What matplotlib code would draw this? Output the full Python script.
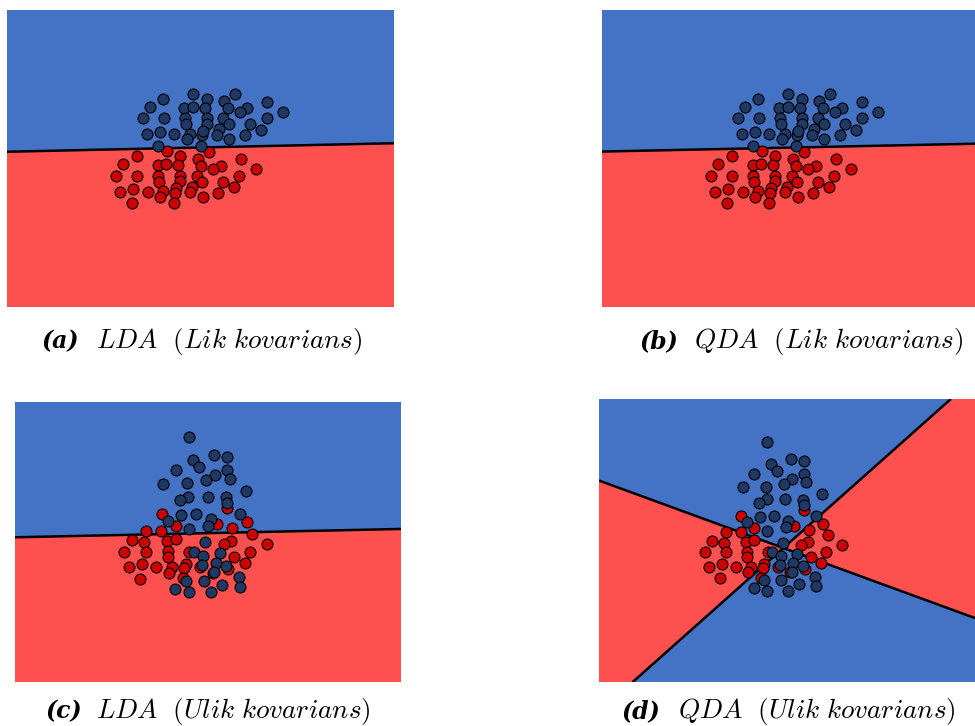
import numpy as np
import matplotlib.pyplot as plt

plt.rcParams['mathtext.fontset'] = 'cm'

# Equal covariance data set (panels a, b)
blue_eq_x = [-0.73, 3.53, -3.67, 0.67, 2.43, 6.73, -5.0, -1.57, -0.67, 0.47, 2.77, 4.73, 4.0,
             8.27, -5.73, -3.57, -1.47, 0.67, 2.33, 6.67, -1.4, 0.73, 2.87, 5.0, 1.87, 6.1,
             -4.0, -5.33, -2.57, -1.0, 0.2, 1.67, 0.33, 4.5, -1.33, 2.93, -4.17, 0.1]
blue_eq_y = [5.6, 5.6, 5.1, 5.13, 4.87, 4.83, 4.33, 4.17, 4.33, 4.17, 4.17, 4.17, 3.77,
             3.8, 3.17, 3.17, 3.17, 3.17, 3.17, 3.17, 2.6, 2.6, 2.6, 2.6, 2.07, 2.0,
             1.83, 1.57, 1.57, 1.57, 1.5, 1.5, 1.93, 1.5, 1.07, 1.07, 0.43, 0.43]
red_eq_x = [-3.33, 0.93, -6.33, -2.0, -0.23, 4.07, -7.67, -4.23, -3.4, -2.23, 0.07, 2.1, 1.33,
            5.6, -8.4, -6.27, -4.17, -2.0, -0.33, 3.93, -4.07, -1.97, 0.17, 2.33, -6.67,
            -2.4, -0.83, 3.43, -8.0, -5.23, -3.67, -2.5, -1.0, 1.77, -4.0, 0.27, -6.83, -2.6]
red_eq_y = [-0.1, -0.17, -0.6, -0.6, -0.9, -0.9, -1.43, -1.5, -1.43, -1.5, -1.57, -1.57, -1.93,
            -1.93, -2.6, -2.6, -2.6, -2.6, -2.6, -2.6, -3.17, -3.13, -3.17, -3.17, -3.9,
            -3.83, -3.73, -3.73, -4.2, -4.2, -4.1, -4.27, -4.2, -4.27, -4.67, -4.67, -5.27, -5.27]

# Unequal covariance data set (panels c, d)
blue_uneq_x = [-1.1, 1.37, 2.73, -0.67, -0.07, -2.43, 2.73, 1.5, 0.63, 2.97, -1.27, -3.67,
               4.6, -1.17, -2.0, 0.77, 2.57, 2.73, 3.97, -0.37, -1.9, -3.23, 1.07, 0.83,
               -1.1, 0.53, -0.57, 0.33, 2.0, 0.23, 1.6, 2.57, 1.43, 3.87, -1.4, 0.37, 2.2,
               -2.53, -1.1, 1.1, 4.0]
blue_uneq_y = [10.33, 8.5, 8.3, 8.0, 7.27, 7.03, 7.0, 6.47, 5.97, 6.1, 5.67, 5.6,
               4.87, 4.33, 4.0, 4.33, 4.27, 3.73, 2.63, 2.63, 2.47, 1.93, 2.07, 1.43,
               1.07, -0.17, -1.17, -1.57, -1.33, -2.5, -2.33, -2.57, -3.23, -3.73, -4.07,
               -4.07, -4.47, -4.9, -5.2, -5.2, -4.73]
red_uneq_x = [-3.8, 2.67, -2.43, 1.67, 4.7, -5.43, -3.87, 3.2, 5.17, -6.8, -5.63, -3.3,
              -2.43, 3.1, 2.4, 6.7, -7.6, -5.4, -3.17, -1.07, 5.0, -3.17, 3.4, -7.13,
              -5.77, -4.37, -2.77, -1.43, 0.0, 2.83, 4.5, -3.1, -1.57, 1.27, -6.0, -1.73]
red_uneq_y = [2.63, 3.23, 1.37, 1.57, 1.8, 0.93, 0.93, 1.17, 0.6, 0.0, -0.17, -0.07,
              0.07, -0.07, -0.43, -0.43, -1.17, -1.17, -1.13, -1.17, -1.17, -1.67, -1.67, -2.73,
              -2.4, -2.73, -2.67, -2.4, -2.73, -2.9, -2.3, -3.27, -2.83, -3.27, -3.9, -3.83]

# decision boundaries as (intercept, slope) lines
lda_eq = (0.25, 0.022)
qda_eq = (0.25, 0.021)
lda_uneq = (0.67, 0.0216)
qda_uneq = [(-0.52, -0.3666), (-1.24, 0.8916)]

labels = ['(a)', '(b)', '(c)', '(d)']
titles = [r"$\mathit{LDA\ \ (Lik\ kovarians)}$",
          r"$\mathit{QDA\ \ (Lik\ kovarians)}$",
          r"$\mathit{LDA\ \ (Ulik\ kovarians)}$",
          r"$\mathit{QDA\ \ (Ulik\ kovarians)}$"]

BG_BLUE = '#4472C4'
BG_RED = '#FF5050'
PT_BLUE = '#203864'
PT_RED = '#CC0000'

W, H = 975, 726
fig = plt.figure(figsize=(W / 100, H / 100), dpi=100)


def add_panel(left, top, right, bottom):
    return fig.add_axes([left / W, 1 - bottom / H, (right - left) / W, (bottom - top) / H])


def draw(ax, lines, xlim, ylim, bx, by, rx, ry):
    xx, yy = np.meshgrid(np.linspace(xlim[0], xlim[1], 600),
                         np.linspace(ylim[0], ylim[1], 600))
    f = np.ones_like(xx)
    for b, m in lines:
        f = f * (yy - (b + m * xx))
    ax.contourf(xx, yy, f, levels=[-1e9, 0, 1e9], colors=[BG_RED, BG_BLUE])
    ax.contour(xx, yy, f, levels=[0], colors='black', linewidths=1.8)
    ax.scatter(rx, ry, s=62, c=PT_RED, edgecolors='black', linewidths=0.8, zorder=3)
    ax.scatter(bx, by, s=62, c=PT_BLUE, edgecolors='black', linewidths=0.8, zorder=3)
    ax.set_xlim(xlim)
    ax.set_ylim(ylim)
    ax.axis('off')


ax_a = add_panel(7, 10, 394, 307)
draw(ax_a, [lda_eq], (-19.3, 19.4), (-15.7, 14.0), blue_eq_x, blue_eq_y, red_eq_x, red_eq_y)

ax_b = add_panel(602, 10, 989, 307)
draw(ax_b, [qda_eq], (-19.3, 19.4), (-15.7, 14.0), blue_eq_x, blue_eq_y, red_eq_x, red_eq_y)

ax_c = add_panel(15, 402, 401, 682)
draw(ax_c, [lda_uneq], (-18.5, 20.1), (-14.2, 13.8), blue_uneq_x, blue_uneq_y, red_uneq_x, red_uneq_y)

ax_d = add_panel(599, 399, 975, 682)
draw(ax_d, qda_uneq, (-18.6, 20.5), (-14.7, 14.8), blue_uneq_x, blue_uneq_y, red_uneq_x, red_uneq_y)

# sub-captions: bold italic label followed by italic title (x in px, baseline in px)
label_pos = [(42, 96, 348), (640, 694, 348), (46, 96, 718), (622, 678, 718)]
for (lx, tx, by), lab, title in zip(label_pos, labels, titles):
    fig.text(lx / W, 1 - by / H, lab, ha='left', va='baseline', fontsize=17,
             family='DejaVu Serif', style='italic', weight='bold')
    fig.text(tx / W, 1 - by / H, title, ha='left', va='baseline', fontsize=19.5)

fig.savefig("out.png", dpi=100)
